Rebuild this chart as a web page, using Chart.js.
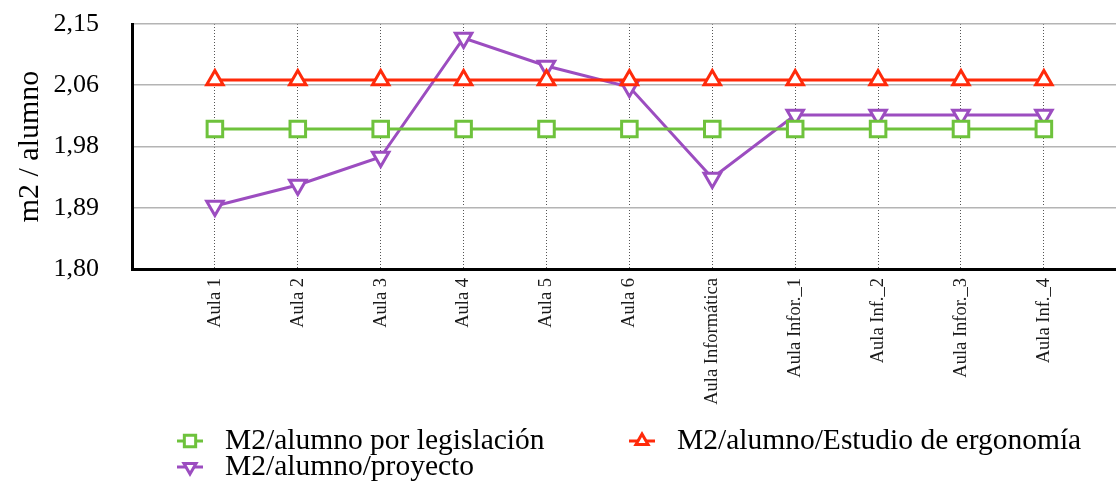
<!DOCTYPE html>
<html lang="es">
<head>
    <meta charset="UTF-8">
    <title>m2 / alumno</title>
    <script src="https://cdn.jsdelivr.net/npm/chart.js"></script>
    <style>
        html, body {
            margin: 0;
            padding: 0;
            overflow: hidden;
            background-color: #ffffff;
        }
        #ratio-chart {
            display: block;
        }
    </style>
</head>
<body>
    <canvas id="ratio-chart" width="1116" height="483"></canvas>

    <script>
        // Aulas del centro
        const aulas = ['Aula 1', 'Aula 2', 'Aula 3', 'Aula 4', 'Aula 5', 'Aula 6',
            'Aula Informática', 'Aula Infor._1', 'Aula Inf._2', 'Aula Infor._3', 'Aula Inf._4'];

        // m2 por alumno
        const porLegislacion = [2.00, 2.00, 2.00, 2.00, 2.00, 2.00, 2.00, 2.00, 2.00, 2.00, 2.00];
        const estudioErgonomia = [2.07, 2.07, 2.07, 2.07, 2.07, 2.07, 2.07, 2.07, 2.07, 2.07, 2.07];
        const proyecto = [1.89, 1.92, 1.96, 2.13, 2.09, 2.06, 1.93, 2.02, 2.02, 2.02, 2.02];

        // Eje vertical
        const yTicks = [1.80, 1.8875, 1.975, 2.0625, 2.15];
        const yTickLabels = ['1,80', '1,89', '1,98', '2,06', '2,15'];

        const serif = "'Liberation Serif', 'Times New Roman', serif";

        // el eje x deja un hueco a la derecha de la última aula
        const xMin = 0;
        const xMax = 11.87;

        function serie(label, data, color, style, rotation, radius) {
            return {
                label: label,
                data: data.map((v, i) => ({ x: i + 1, y: v })),
                borderColor: color,
                backgroundColor: '#ffffff',
                borderWidth: 3,
                pointStyle: style,
                pointRotation: rotation,
                pointRadius: radius,
                pointBorderWidth: 3,
                pointBackgroundColor: '#ffffff',
                pointBorderColor: color,
                fill: false,
                tension: 0
            };
        }

        // Leyenda en dos columnas debajo del eje
        const legendPlugin = {
            id: 'legendaDosColumnas',
            afterDraw(chart) {
                const ctx = chart.ctx;
                const slots = [
                    { x: 190, y: 441 },
                    { x: 642, y: 441 },
                    { x: 190, y: 467 }
                ];
                chart.data.datasets.forEach((ds, i) => {
                    const s = slots[i];
                    ctx.save();
                    ctx.strokeStyle = ds.borderColor;
                    ctx.fillStyle = '#ffffff';
                    ctx.lineWidth = 3;
                    ctx.beginPath();
                    ctx.moveTo(s.x - 13, s.y);
                    ctx.lineTo(s.x + 13, s.y);
                    ctx.stroke();
                    Chart.helpers.drawPoint(ctx, {
                        pointStyle: ds.pointStyle,
                        rotation: ds.pointRotation,
                        radius: ds.pointStyle === 'rect' ? 8 : 7,
                        borderWidth: 3
                    }, s.x, s.y);
                    ctx.fillStyle = '#000000';
                    ctx.font = "29.5px " + serif;
                    ctx.textBaseline = 'middle';
                    ctx.textAlign = 'left';
                    ctx.fillText(ds.label, s.x + 35, s.y);
                    ctx.restore();
                });
            }
        };

        const ctx = document.getElementById('ratio-chart').getContext('2d');
        const chart = new Chart(ctx, {
            type: 'line',
            data: {
                datasets: [
                    serie('M2/alumno por legislación', porLegislacion, '#6ec23c', 'rect', 0, 11),
                    serie('M2/alumno/Estudio de ergonomía', estudioErgonomia, '#ff2a0a', 'triangle', 0, 9.5),
                    serie('M2/alumno/proyecto', proyecto, '#9c4dc0', 'triangle', 180, 9.5)
                ]
            },
            options: {
                responsive: false,
                animation: false,
                layout: {
                    autoPadding: false,
                    padding: { top: 24, left: 0, right: 0, bottom: 0 }
                },
                plugins: {
                    legend: { display: false },
                    tooltip: { enabled: false }
                },
                scales: {
                    x: {
                        type: 'linear',
                        min: xMin,
                        max: xMax,
                        afterBuildTicks(scale) {
                            scale.ticks = aulas.map((a, i) => ({ value: i + 1 }));
                            scale.min = xMin;
                            scale.max = xMax;
                        },
                        afterFit(scale) {
                            scale.height = 214;
                            scale.paddingLeft = 0;
                            scale.paddingRight = 0;
                            scale.paddingTop = 0;
                            scale.paddingBottom = 0;
                        },
                        ticks: {
                            autoSkip: false,
                            maxRotation: 90,
                            minRotation: 90,
                            padding: 9,
                            color: '#1a1a1a',
                            font: { family: serif, size: 18.5 },
                            callback: (v) => aulas[v - 1]
                        },
                        grid: {
                            color: '#555555',
                            lineWidth: 1,
                            drawTicks: false
                        },
                        border: {
                            color: '#000000',
                            width: 3,
                            dash: [1, 2]
                        }
                    },
                    y: {
                        min: 1.80,
                        max: 2.15,
                        afterBuildTicks(scale) {
                            scale.ticks = yTicks.map(v => ({ value: v }));
                            scale.min = yTicks[0];
                            scale.max = yTicks[yTicks.length - 1];
                        },
                        afterFit(scale) {
                            scale.width = 132;
                            scale.paddingLeft = 0;
                            scale.paddingRight = 0;
                            scale.paddingTop = 0;
                            scale.paddingBottom = 0;
                        },
                        ticks: {
                            padding: 33,
                            color: '#000000',
                            font: { family: serif, size: 26 },
                            callback: (v, i) => yTickLabels[i]
                        },
                        grid: {
                            color: '#b4b4b4',
                            lineWidth: 1.5,
                            drawTicks: false
                        },
                        border: {
                            color: '#000000',
                            width: 3
                        },
                        title: {
                            display: true,
                            text: 'm2 / alumno',
                            color: '#000000',
                            font: { family: serif, size: 30 },
                            padding: { top: 12, bottom: 0 }
                        }
                    }
                }
            },
            plugins: [legendPlugin]
        });
    </script>
</body>
</html>
